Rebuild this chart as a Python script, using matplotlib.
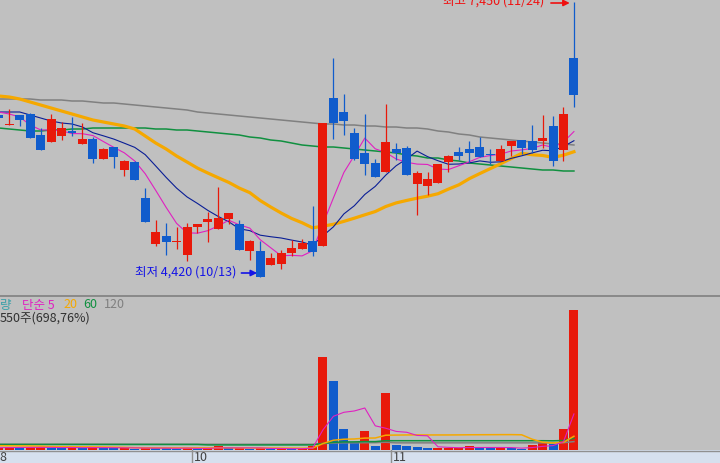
import numpy as np
import matplotlib
matplotlib.use('Agg')
import matplotlib.pyplot as plt

plt.rcParams['font.family'] = ['Noto Sans CJK KR', 'DejaVu Sans']

# ==========================================
# 1. 일봉 데이터 (시가 / 고가 / 저가 / 종가)
# ==========================================
opens = [6200, 6090, 6200, 6210, 5980, 5900, 5970, 6030, 5880, 5940,
         5720, 5850, 5600, 5690, 5290, 4780, 4870, 4810, 4660, 4970,
         5020, 4950, 5060, 5000, 4710, 4710, 4550, 4560, 4680, 4730,
         4820, 4760, 6390, 6230, 6000, 5780, 5670, 5580, 5830, 5840,
         5440, 5420, 5450, 5690, 5800, 5830, 5850, 5770, 5700, 5860,
         5930, 5920, 5920, 6080, 5820, 6830]
highs = [6220, 6270, 6200, 6220, 6060, 6210, 6120, 6180, 6110, 5960,
         5840, 5850, 5710, 5700, 5400, 5050, 5010, 4970, 5010, 5000,
         5130, 5410, 5120, 5050, 4830, 4820, 4680, 4720, 4830, 4840,
         5200, 6110, 6830, 6430, 6060, 6210, 5720, 6320, 5890, 5860,
         5590, 5580, 5660, 5760, 5850, 5920, 5960, 5830, 5870, 5920,
         5930, 6090, 6200, 6190, 6290, 7450]
lows = [6150, 6090, 6080, 5950, 5820, 5900, 5930, 5970, 5880, 5670,
        5720, 5620, 5530, 5490, 5020, 4760, 4660, 4730, 4600, 4900,
        4810, 4950, 5000, 4720, 4610, 4420, 4550, 4510, 4650, 4730,
        4650, 4760, 5940, 5980, 5710, 5540, 5520, 5580, 5710, 5540,
        5100, 5320, 5450, 5580, 5710, 5690, 5740, 5660, 5700, 5750,
        5770, 5780, 5840, 5640, 5700, 6290]
closes = [6170, 6100, 6150, 5950, 5820, 6160, 6060, 6000, 5940, 5720,
          5830, 5740, 5700, 5490, 5020, 4920, 4800, 4820, 4970, 5000,
          5060, 5070, 5120, 4720, 4820, 4420, 4630, 4680, 4740, 4790,
          4700, 6110, 6110, 6140, 5720, 5660, 5520, 5910, 5780, 5540,
          5560, 5500, 5660, 5750, 5750, 5780, 5740, 5760, 5830, 5920,
          5840, 5820, 5950, 5700, 6210, 6420]

# 이동평균선 (5 / 10 / 20 / 60 / 120)
ma5 = [6235, 6213, 6180, 6092, 6038, 6036, 6028, 5998, 5996, 5976,
       5910, 5846, 5786, 5696, 5556, 5374, 5186, 5010, 4906, 4902,
       4930, 4984, 5044, 4994, 4958, 4830, 4742, 4654, 4658, 4652,
       4708, 5004, 5290, 5570, 5756, 5948, 5830, 5790, 5718, 5682,
       5662, 5658, 5608, 5602, 5644, 5688, 5736, 5756, 5772, 5806,
       5818, 5834, 5872, 5846, 5904, 6020]
ma10 = [6235, 6235, 6235, 6202, 6169, 6136, 6114, 6103, 6070, 6007,
        5973, 5937, 5892, 5846, 5766, 5642, 5516, 5398, 5301, 5229,
        5152, 5085, 5027, 4950, 4930, 4880, 4863, 4849, 4826, 4805,
        4769, 4873, 4972, 5114, 5204, 5328, 5417, 5540, 5644, 5719,
        5805, 5744, 5699, 5660, 5663, 5675, 5697, 5682, 5687, 5725,
        5753, 5785, 5814, 5809, 5855, 5919]
ma20 = [6411, 6400, 6378, 6345, 6312, 6279, 6246, 6213, 6180, 6147,
        6125, 6103, 6081, 6048, 5971, 5894, 5828, 5751, 5685, 5618,
        5563, 5511, 5460, 5398, 5348, 5261, 5190, 5124, 5064, 5017,
        4961, 4979, 5000, 5032, 5067, 5104, 5140, 5195, 5235, 5262,
        5287, 5309, 5336, 5387, 5434, 5502, 5558, 5612, 5666, 5723,
        5780, 5765, 5757, 5735, 5760, 5798]
ma60 = [6059, 6048, 6037, 6026, 6026, 6037, 6037, 6048, 6048, 6059,
        6059, 6059, 6059, 6059, 6059, 6048, 6048, 6037, 6037, 6026,
        6015, 6004, 5993, 5982, 5960, 5949, 5927, 5916, 5894, 5872,
        5861, 5850, 5850, 5839, 5828, 5817, 5806, 5795, 5784, 5762,
        5751, 5729, 5729, 5707, 5696, 5674, 5663, 5652, 5641, 5630,
        5619, 5608, 5597, 5597, 5586, 5586]
ma120 = [6378, 6378, 6378, 6378, 6367, 6367, 6367, 6356, 6356, 6345,
         6334, 6334, 6323, 6312, 6301, 6290, 6279, 6268, 6257, 6235,
         6224, 6213, 6202, 6191, 6180, 6169, 6158, 6147, 6136, 6125,
         6114, 6103, 6103, 6092, 6092, 6081, 6081, 6070, 6070, 6059,
         6059, 6048, 6026, 6015, 5993, 5982, 5960, 5949, 5938, 5927,
         5916, 5905, 5894, 5883, 5883, 5872]

# 거래량 (주) 과 거래량 이동평균
volumes = [140000, 160000, 120000, 150000, 170000, 130000, 110000, 140000, 100000, 190000,
           120000, 90000, 110000, 80000, 150000, 100000, 90000, 70000, 120000, 80000,
           100000, 210000, 90000, 110000, 80000, 100000, 60000, 70000, 60000, 80000,
           230000, 5210000, 3860000, 1180000, 450000, 1060000, 220000, 3190000, 280000, 220000,
           170000, 110000, 115000, 120000, 125000, 220000, 120000, 115000, 118000, 105000,
           60000, 280000, 450000, 340000, 1180000, 7850550]
vol_ma5 = [130000, 135000, 140000, 145000, 148000, 146000, 136000, 140000, 130000, 134000,
           132000, 128000, 122000, 118000, 110000, 106000, 106000, 98000, 106000, 92000,
           92000, 116000, 120000, 118000, 118000, 118000, 88000, 84000, 74000, 74000,
           100000, 1130000, 1888000, 2112000, 2186000, 2352000, 1354000, 1220000, 1040000, 994000,
           816000, 794000, 179000, 147000, 128000, 138000, 140000, 140000, 140000, 136000,
           104000, 136000, 203000, 247000, 462000, 2020000]
vol_ma20 = [240000, 235000, 230000, 225000, 215000, 190000, 185000, 180000, 180000, 175000,
            170000, 160000, 150000, 130000, 125000, 120000, 120000, 118000, 116000, 121000,
            119000, 122000, 120000, 118000, 114000, 112000, 110000, 106000, 104000, 99000,
            104000, 360000, 548000, 603000, 618000, 666000, 672000, 828000, 836000, 843000,
            847000, 842000, 843000, 843000, 846000, 852000, 855000, 857000, 860000, 861000,
            852000, 606000, 435000, 393000, 430000, 769000]
vol_ma60 = [310000] * 20 + [285000] * 11 + [370000, 430000, 450000, 455000, 470000, 470000] + \
           [520000] * 16 + [515000, 530000, 650000]
vol_ma120 = [320000] * 31 + [360000, 390000, 400000, 400000, 410000, 410000, 435000] + \
            [400000] * 16 + [410000, 470000]

month_labels = ['8', '10', '11']
month_starts = [-0.1, 18.5, 37.5]

# ==========================================
# 2. 레이아웃
# ==========================================
W, H = 720, 463
RED = '#e8190a'
BLUE = '#105ccc'
BG = '#c0c0c0'

fig = plt.figure(figsize=(W / 100, H / 100), dpi=100)
fig.patch.set_facecolor(BG)


def box(top, bottom):
    return [0, 1 - bottom / H, 1, (bottom - top) / H]


ax = fig.add_axes(box(0, 296))
axv = fig.add_axes(box(296, 450))
axd = fig.add_axes(box(450, 463))

step = 10.457  # 캔들 간격 (px)
x0 = -1.2
xlim = (-x0 / step, (W - x0) / step)
for a in (ax, axv, axd):
    a.set_xlim(*xlim)
    a.set_facecolor(BG)
    a.set_xticks([])
    a.set_yticks([])
    for s in a.spines.values():
        s.set_visible(False)

# 가격 스케일: 1px = 11원
ax.set_ylim(7467 - 11 * 296, 7467)

idx = np.arange(len(closes))
o = np.array(opens)
c = np.array(closes)

# ==========================================
# 3. 이동평균선 + 캔들
# ==========================================
ax.plot(idx, ma120, color='#808080', lw=1.1, zorder=2)
ax.plot(idx, ma60, color='#109040', lw=1.1, zorder=2)
ax.plot(idx, ma20, color='#f5a800', lw=2.3, zorder=2)
ax.plot(idx, ma10, color='#0a1e96', lw=0.8, zorder=2)
ax.plot(idx, ma5, color='#e020c0', lw=0.8, zorder=2)

candle_colors = np.where(c >= o, RED, BLUE)
ax.vlines(idx, lows, highs, colors=candle_colors, lw=0.9, zorder=3)
ax.bar(idx, np.maximum(np.abs(c - o), 11), bottom=np.minimum(o, c), width=0.86,
       color=candle_colors, linewidth=0, zorder=4)

# 최고 / 최저 표시
ax.text(52.2, 7456, '최고 7,450 (11/24)', color='#f01010', fontsize=9,
        ha='right', va='center', zorder=5)
ax.annotate('', xy=(54.6, 7434), xytext=(52.8, 7434),
            arrowprops=dict(arrowstyle='-|>', color='#f01010', lw=1.2,
                            mutation_scale=9, shrinkA=0, shrinkB=0))
ax.text(22.7, 4475, '최저 4,420 (10/13)', color='#1414e6', fontsize=9,
        ha='right', va='center', zorder=5)
ax.annotate('', xy=(24.7, 4464), xytext=(23.2, 4464),
            arrowprops=dict(arrowstyle='-|>', color='#1414e6', lw=1.2,
                            mutation_scale=9, shrinkA=0, shrinkB=0))

# ==========================================
# 4. 거래량
# ==========================================
v = np.array(volumes)
vol_colors = [RED] + [RED if v[i] >= v[i - 1] else BLUE for i in range(1, len(v))]
axv.set_ylim(0, 154 * 56000)
axv.bar(idx, v, width=0.86, color=vol_colors, linewidth=0, zorder=2)
axv.plot(idx, vol_ma120, color='#808080', lw=1.1, zorder=3)
axv.plot(idx, vol_ma60, color='#109040', lw=1.1, zorder=3)
axv.plot(idx, vol_ma20, color='#f5a800', lw=1.1, zorder=3)
axv.plot(idx, vol_ma5, color='#e020c0', lw=0.8, zorder=3)

# 범례 텍스트
ly = 1 - 305 / H
fig.text(0 / W, ly, '량', color='#3aa0a8', fontsize=9, va='center')
fig.text(22 / W, ly, '단순 5', color='#e020c0', fontsize=9, va='center')
fig.text(63 / W, ly, '20', color='#f5a800', fontsize=9, va='center')
fig.text(83 / W, ly, '60', color='#109040', fontsize=9, va='center')
fig.text(104 / W, ly, '120', color='#808080', fontsize=9, va='center')
fig.text(0 / W, 1 - 318 / H, '550주(698,76%)', color='#303030', fontsize=9, va='center')

# 패널 구분선
fig.add_artist(plt.Line2D([0, 1], [1 - 295.5 / H] * 2, color='#808080', lw=1.2))
fig.add_artist(plt.Line2D([0, 1], [1 - 450.5 / H] * 2, color='#909090', lw=1.0))

# ==========================================
# 5. 날짜 축
# ==========================================
axd.set_facecolor('#d6e0ee')
axd.set_ylim(0, 1)
for lab, pos in zip(month_labels, month_starts):
    axd.axvline(pos, color='#909090', lw=1.0)
    axd.text(pos + 0.15, 0.45, lab, color='#404040', fontsize=9, va='center', ha='left')

fig.savefig('out.png', dpi=100, facecolor=fig.get_facecolor())
